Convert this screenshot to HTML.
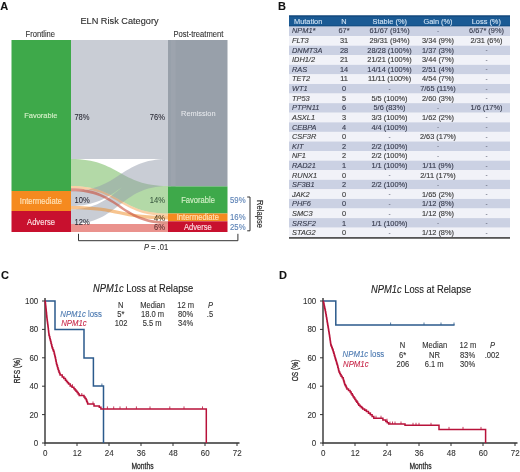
<!DOCTYPE html>
<html><head><meta charset="utf-8"><style>
html,body{margin:0;padding:0;background:#fff;width:520px;height:472px;overflow:hidden}
svg{display:block;filter:blur(0.3px)}
text{font-family:"Liberation Sans", sans-serif}
</style></head><body>
<svg width="520" height="472" viewBox="0 0 520 472">
<rect width="520" height="472" fill="#fff"/>
<text x="0.2" y="9.8" font-size="11" fill="#111" stroke="#111" stroke-width="0.1" text-anchor="start" font-weight="bold" font-style="normal" >A</text>
<text x="0" y="0" transform="translate(119.5,24.4) scale(1,1.08)" font-size="9.2" fill="#2b2b2b" stroke="#2b2b2b" stroke-width="0.1" text-anchor="middle" font-weight="normal" font-style="normal" >ELN Risk Category</text>
<text x="0" y="0" transform="translate(40.3,36.6) scale(1,1.08)" font-size="7.6" fill="#333" stroke="#333" stroke-width="0.1" text-anchor="middle" font-weight="normal" font-style="normal" >Frontline</text>
<text x="0" y="0" transform="translate(198.4,36.6) scale(1,1.08)" font-size="7.6" fill="#333" stroke="#333" stroke-width="0.1" text-anchor="middle" font-weight="normal" font-style="normal" >Post-treatment</text>
<path d="M71,40 C119.5,40 119.5,40 168,40 L168,159 C119.5,159 119.5,159 71,159 Z" fill="#939BAB" fill-opacity="0.5"/>
<path d="M71,159 C119.5,159 119.5,186 168,186 L168,213.5 C119.5,213.5 119.5,186 71,186 Z" fill="#67B34F" fill-opacity="0.5"/>
<path d="M71,191 C119.5,191 119.5,159 168,159 L168,186 C119.5,186 119.5,224 71,224 L71,209.3 C119.5,209.3 119.5,169.5 168,169.5 L168,172 C119.5,172 119.5,206 71,206 Z" fill="#939BAB" fill-opacity="0.5"/>
<path d="M71,186 C119.5,186 119.5,213.5 168,213.5 L168,216 C119.5,216 119.5,188.2 71,188.2 Z" fill="#F08A20" fill-opacity="0.4"/>
<path d="M71,206 C119.5,206 119.5,216 168,216 L168,219.5 C119.5,219.5 119.5,209.3 71,209.3 Z" fill="#F08A20" fill-opacity="0.5"/>
<path d="M71,188.2 C119.5,188.2 119.5,221.3 168,221.3 L168,224 C119.5,224 119.5,191.2 71,191.2 Z" fill="#C8503E" fill-opacity="0.62"/>
<path d="M71,224 C119.5,224 119.5,224 168,224 L168,232 C119.5,232 119.5,232 71,232 Z" fill="#D5251C" fill-opacity="0.5"/>
<rect x="11.5" y="40" width="59.5" height="151" fill="#3EA94A"/>
<rect x="11.5" y="191" width="59.5" height="20" fill="#F58A1F"/>
<rect x="11.5" y="211" width="59.5" height="21" fill="#C8102E"/>
<rect x="168" y="40" width="59.5" height="146.4" fill="#98A0AA"/>
<rect x="170.8" y="40" width="4.8" height="146.4" fill="#9DA4AE"/>
<rect x="168" y="186.4" width="59.5" height="27.1" fill="#3EA94A"/>
<rect x="168" y="213.5" width="59.5" height="7.8" fill="#F58A1F"/>
<rect x="168" y="221.3" width="59.5" height="10.7" fill="#C8102E"/>
<text x="0" y="0" transform="translate(40.8,118) scale(1,1.08)" font-size="7.5" fill="#D5F0C8" stroke="#D5F0C8" stroke-width="0.12" text-anchor="middle" font-weight="normal" font-style="normal" >Favorable</text>
<text x="0" y="0" transform="translate(40.9,203.6) scale(1,1.08)" font-size="7.6" fill="#FFE2B8" stroke="#FFE2B8" stroke-width="0.15" text-anchor="middle" font-weight="normal" font-style="normal" >Intermediate</text>
<text x="0" y="0" transform="translate(41,224.6) scale(1,1.08)" font-size="7.6" fill="#FBDDE0" stroke="#FBDDE0" stroke-width="0.15" text-anchor="middle" font-weight="normal" font-style="normal" >Adverse</text>
<text x="0" y="0" transform="translate(74.4,120.4) scale(1,1.08)" font-size="7.6" fill="#2a2a35" stroke="#2a2a35" stroke-width="0.06" text-anchor="start" font-weight="normal" font-style="normal" >78%</text>
<text x="0" y="0" transform="translate(74.6,203.2) scale(1,1.08)" font-size="7.6" fill="#2a2a35" stroke="#2a2a35" stroke-width="0.06" text-anchor="start" font-weight="normal" font-style="normal" >10%</text>
<text x="0" y="0" transform="translate(74.6,224.8) scale(1,1.08)" font-size="7.6" fill="#2a2a35" stroke="#2a2a35" stroke-width="0.06" text-anchor="start" font-weight="normal" font-style="normal" >12%</text>
<text x="0" y="0" transform="translate(165,120.4) scale(1,1.08)" font-size="7.6" fill="#2a2a35" stroke="#2a2a35" stroke-width="0.06" text-anchor="end" font-weight="normal" font-style="normal" >76%</text>
<text x="0" y="0" transform="translate(165,203.2) scale(1,1.08)" font-size="7.6" fill="#3a5a40" stroke="#3a5a40" stroke-width="0.06" text-anchor="end" font-weight="normal" font-style="normal" >14%</text>
<text x="0" y="0" transform="translate(165,220.5) scale(1,1.08)" font-size="7.6" fill="#4a3a20" stroke="#4a3a20" stroke-width="0.06" text-anchor="end" font-weight="normal" font-style="normal" >4%</text>
<text x="0" y="0" transform="translate(165,229.6) scale(1,1.08)" font-size="7.6" fill="#5a3030" stroke="#5a3030" stroke-width="0.06" text-anchor="end" font-weight="normal" font-style="normal" >6%</text>
<text x="0" y="0" transform="translate(198.3,115.9) scale(1,1.08)" font-size="7.4" fill="#E6E8EC" stroke="#E6E8EC" stroke-width="0.05" text-anchor="middle" font-weight="normal" font-style="normal" >Remission</text>
<text x="0" y="0" transform="translate(198,202.8) scale(1,1.08)" font-size="7.6" fill="#D5F0C8" stroke="#D5F0C8" stroke-width="0.12" text-anchor="middle" font-weight="normal" font-style="normal" >Favorable</text>
<text x="0" y="0" transform="translate(197.8,219.7) scale(1,1.08)" font-size="7.6" fill="#FFE2B8" stroke="#FFE2B8" stroke-width="0.15" text-anchor="middle" font-weight="normal" font-style="normal" >Intermediate</text>
<text x="0" y="0" transform="translate(197.9,229.7) scale(1,1.08)" font-size="7.6" fill="#FBDDE0" stroke="#FBDDE0" stroke-width="0.15" text-anchor="middle" font-weight="normal" font-style="normal" >Adverse</text>
<text x="0" y="0" transform="translate(230,203) scale(1,1.08)" font-size="7.8" fill="#5A80B5" stroke="#5A80B5" stroke-width="0.1" text-anchor="start" font-weight="normal" font-style="normal" >59%</text>
<text x="0" y="0" transform="translate(230,220.2) scale(1,1.08)" font-size="7.8" fill="#5A80B5" stroke="#5A80B5" stroke-width="0.1" text-anchor="start" font-weight="normal" font-style="normal" >16%</text>
<text x="0" y="0" transform="translate(230,230) scale(1,1.08)" font-size="7.8" fill="#5A80B5" stroke="#5A80B5" stroke-width="0.1" text-anchor="start" font-weight="normal" font-style="normal" >25%</text>
<path d="M247.2,197 H250 V230.8 H247.2" fill="none" stroke="#333" stroke-width="1"/>
<text x="0" y="0" font-size="7.6" fill="#2a2a2a" stroke="#2a2a2a" stroke-width="0.15" transform="translate(257,214) rotate(90) scale(1,1.08)" text-anchor="middle">Relapse</text>
<path d="M78.5,233.8 V240.7 H237.9 V233.8" fill="none" stroke="#333" stroke-width="1"/>
<text x="0" y="0" transform="translate(156,250) scale(1,1.08)" font-size="7.6" fill="#333" stroke="#333" stroke-width="0.1" text-anchor="middle" font-weight="normal" font-style="normal" ><tspan font-style="italic">P</tspan> = .01</text>
<text x="278" y="9.8" font-size="11" fill="#111" stroke="#111" stroke-width="0.1" text-anchor="start" font-weight="bold" font-style="normal" >B</text>
<rect x="289" y="15.5" width="221" height="11" fill="#1A5A94"/>
<rect x="289" y="15.5" width="221" height="1" fill="#0E3F70"/>
<rect x="289" y="25.6" width="221" height="0.9" fill="#0E3F70"/>
<text x="0" y="0" transform="translate(294,24) scale(1,1.08)" font-size="7.4" fill="#D2E4F5" stroke="#D2E4F5" stroke-width="0.1" text-anchor="start" font-weight="normal" font-style="normal" >Mutation</text>
<text x="0" y="0" transform="translate(344,24) scale(1,1.08)" font-size="7.4" fill="#D2E4F5" stroke="#D2E4F5" stroke-width="0.1" text-anchor="middle" font-weight="normal" font-style="normal" >N</text>
<text x="0" y="0" transform="translate(389.7,24) scale(1,1.08)" font-size="7.4" fill="#D2E4F5" stroke="#D2E4F5" stroke-width="0.1" text-anchor="middle" font-weight="normal" font-style="normal" >Stable (%)</text>
<text x="0" y="0" transform="translate(438,24) scale(1,1.08)" font-size="7.4" fill="#D2E4F5" stroke="#D2E4F5" stroke-width="0.1" text-anchor="middle" font-weight="normal" font-style="normal" >Gain (%)</text>
<text x="0" y="0" transform="translate(486.3,24) scale(1,1.08)" font-size="7.4" fill="#D2E4F5" stroke="#D2E4F5" stroke-width="0.1" text-anchor="middle" font-weight="normal" font-style="normal" >Loss (%)</text>
<rect x="289" y="26.50" width="221" height="9.63" fill="#CBD1E3"/>
<rect x="289" y="36.08" width="221" height="9.63" fill="#F1F2F8"/>
<rect x="289" y="45.66" width="221" height="9.63" fill="#CBD1E3"/>
<rect x="289" y="55.24" width="221" height="9.63" fill="#F1F2F8"/>
<rect x="289" y="64.82" width="221" height="9.63" fill="#CBD1E3"/>
<rect x="289" y="74.40" width="221" height="9.63" fill="#F1F2F8"/>
<rect x="289" y="83.98" width="221" height="9.63" fill="#CBD1E3"/>
<rect x="289" y="93.56" width="221" height="9.63" fill="#F1F2F8"/>
<rect x="289" y="103.14" width="221" height="9.63" fill="#CBD1E3"/>
<rect x="289" y="112.72" width="221" height="9.63" fill="#F1F2F8"/>
<rect x="289" y="122.30" width="221" height="9.63" fill="#CBD1E3"/>
<rect x="289" y="131.88" width="221" height="9.63" fill="#F1F2F8"/>
<rect x="289" y="141.46" width="221" height="9.63" fill="#CBD1E3"/>
<rect x="289" y="151.04" width="221" height="9.63" fill="#F1F2F8"/>
<rect x="289" y="160.62" width="221" height="9.63" fill="#CBD1E3"/>
<rect x="289" y="170.20" width="221" height="9.63" fill="#F1F2F8"/>
<rect x="289" y="179.78" width="221" height="9.63" fill="#CBD1E3"/>
<rect x="289" y="189.36" width="221" height="9.63" fill="#F1F2F8"/>
<rect x="289" y="198.94" width="221" height="9.63" fill="#CBD1E3"/>
<rect x="289" y="208.52" width="221" height="9.63" fill="#F1F2F8"/>
<rect x="289" y="218.10" width="221" height="9.63" fill="#CBD1E3"/>
<rect x="289" y="227.68" width="221" height="9.63" fill="#F1F2F8"/>
<text x="0" y="0" transform="translate(292,33.45) scale(1,1.08)" font-size="7.4" fill="#383C4E" stroke="#383C4E" stroke-width="0.12" text-anchor="start" font-weight="normal" font-style="italic" >NPM1*</text>
<text x="0" y="0" transform="translate(344,33.45) scale(1,1.08)" font-size="7.4" fill="#383C4E" stroke="#383C4E" stroke-width="0.12" text-anchor="middle" font-weight="normal" font-style="normal" >67*</text>
<text x="0" y="0" transform="translate(389.5,33.45) scale(1,1.08)" font-size="7.4" fill="#383C4E" stroke="#383C4E" stroke-width="0.12" text-anchor="middle" font-weight="normal" font-style="normal" >61/67 (91%)</text>
<text x="0" y="0" transform="translate(438,33.05) scale(1,1.08)" font-size="6.4" fill="#5a5e70" stroke="#5a5e70" stroke-width="0" text-anchor="middle" font-weight="normal" font-style="normal" >-</text>
<text x="0" y="0" transform="translate(486.5,33.45) scale(1,1.08)" font-size="7.4" fill="#383C4E" stroke="#383C4E" stroke-width="0.12" text-anchor="middle" font-weight="normal" font-style="normal" >6/67* (9%)</text>
<text x="0" y="0" transform="translate(292,43.05) scale(1,1.08)" font-size="7.4" fill="#3a3a3a" stroke="#3a3a3a" stroke-width="0.12" text-anchor="start" font-weight="normal" font-style="italic" >FLT3</text>
<text x="0" y="0" transform="translate(344,43.05) scale(1,1.08)" font-size="7.4" fill="#3a3a3a" stroke="#3a3a3a" stroke-width="0.12" text-anchor="middle" font-weight="normal" font-style="normal" >31</text>
<text x="0" y="0" transform="translate(389.5,43.05) scale(1,1.08)" font-size="7.4" fill="#3a3a3a" stroke="#3a3a3a" stroke-width="0.12" text-anchor="middle" font-weight="normal" font-style="normal" >29/31 (94%)</text>
<text x="0" y="0" transform="translate(438,43.05) scale(1,1.08)" font-size="7.4" fill="#3a3a3a" stroke="#3a3a3a" stroke-width="0.12" text-anchor="middle" font-weight="normal" font-style="normal" >3/34 (9%)</text>
<text x="0" y="0" transform="translate(486.5,43.05) scale(1,1.08)" font-size="7.4" fill="#3a3a3a" stroke="#3a3a3a" stroke-width="0.12" text-anchor="middle" font-weight="normal" font-style="normal" >2/31 (6%)</text>
<text x="0" y="0" transform="translate(292,52.66) scale(1,1.08)" font-size="7.4" fill="#383C4E" stroke="#383C4E" stroke-width="0.12" text-anchor="start" font-weight="normal" font-style="italic" >DNMT3A</text>
<text x="0" y="0" transform="translate(344,52.66) scale(1,1.08)" font-size="7.4" fill="#383C4E" stroke="#383C4E" stroke-width="0.12" text-anchor="middle" font-weight="normal" font-style="normal" >28</text>
<text x="0" y="0" transform="translate(389.5,52.66) scale(1,1.08)" font-size="7.4" fill="#383C4E" stroke="#383C4E" stroke-width="0.12" text-anchor="middle" font-weight="normal" font-style="normal" >28/28 (100%)</text>
<text x="0" y="0" transform="translate(438,52.66) scale(1,1.08)" font-size="7.4" fill="#383C4E" stroke="#383C4E" stroke-width="0.12" text-anchor="middle" font-weight="normal" font-style="normal" >1/37 (3%)</text>
<text x="0" y="0" transform="translate(486.5,52.26) scale(1,1.08)" font-size="6.4" fill="#5a5e70" stroke="#5a5e70" stroke-width="0" text-anchor="middle" font-weight="normal" font-style="normal" >-</text>
<text x="0" y="0" transform="translate(292,62.27) scale(1,1.08)" font-size="7.4" fill="#3a3a3a" stroke="#3a3a3a" stroke-width="0.12" text-anchor="start" font-weight="normal" font-style="italic" >IDH1/2</text>
<text x="0" y="0" transform="translate(344,62.27) scale(1,1.08)" font-size="7.4" fill="#3a3a3a" stroke="#3a3a3a" stroke-width="0.12" text-anchor="middle" font-weight="normal" font-style="normal" >21</text>
<text x="0" y="0" transform="translate(389.5,62.27) scale(1,1.08)" font-size="7.4" fill="#3a3a3a" stroke="#3a3a3a" stroke-width="0.12" text-anchor="middle" font-weight="normal" font-style="normal" >21/21 (100%)</text>
<text x="0" y="0" transform="translate(438,62.27) scale(1,1.08)" font-size="7.4" fill="#3a3a3a" stroke="#3a3a3a" stroke-width="0.12" text-anchor="middle" font-weight="normal" font-style="normal" >3/44 (7%)</text>
<text x="0" y="0" transform="translate(486.5,61.87) scale(1,1.08)" font-size="6.4" fill="#5a5e70" stroke="#5a5e70" stroke-width="0" text-anchor="middle" font-weight="normal" font-style="normal" >-</text>
<text x="0" y="0" transform="translate(292,71.87) scale(1,1.08)" font-size="7.4" fill="#383C4E" stroke="#383C4E" stroke-width="0.12" text-anchor="start" font-weight="normal" font-style="italic" >RAS</text>
<text x="0" y="0" transform="translate(344,71.87) scale(1,1.08)" font-size="7.4" fill="#383C4E" stroke="#383C4E" stroke-width="0.12" text-anchor="middle" font-weight="normal" font-style="normal" >14</text>
<text x="0" y="0" transform="translate(389.5,71.87) scale(1,1.08)" font-size="7.4" fill="#383C4E" stroke="#383C4E" stroke-width="0.12" text-anchor="middle" font-weight="normal" font-style="normal" >14/14 (100%)</text>
<text x="0" y="0" transform="translate(438,71.87) scale(1,1.08)" font-size="7.4" fill="#383C4E" stroke="#383C4E" stroke-width="0.12" text-anchor="middle" font-weight="normal" font-style="normal" >2/51 (4%)</text>
<text x="0" y="0" transform="translate(486.5,71.47) scale(1,1.08)" font-size="6.4" fill="#5a5e70" stroke="#5a5e70" stroke-width="0" text-anchor="middle" font-weight="normal" font-style="normal" >-</text>
<text x="0" y="0" transform="translate(292,81.48) scale(1,1.08)" font-size="7.4" fill="#3a3a3a" stroke="#3a3a3a" stroke-width="0.12" text-anchor="start" font-weight="normal" font-style="italic" >TET2</text>
<text x="0" y="0" transform="translate(344,81.48) scale(1,1.08)" font-size="7.4" fill="#3a3a3a" stroke="#3a3a3a" stroke-width="0.12" text-anchor="middle" font-weight="normal" font-style="normal" >11</text>
<text x="0" y="0" transform="translate(389.5,81.48) scale(1,1.08)" font-size="7.4" fill="#3a3a3a" stroke="#3a3a3a" stroke-width="0.12" text-anchor="middle" font-weight="normal" font-style="normal" >11/11 (100%)</text>
<text x="0" y="0" transform="translate(438,81.48) scale(1,1.08)" font-size="7.4" fill="#3a3a3a" stroke="#3a3a3a" stroke-width="0.12" text-anchor="middle" font-weight="normal" font-style="normal" >4/54 (7%)</text>
<text x="0" y="0" transform="translate(486.5,81.08) scale(1,1.08)" font-size="6.4" fill="#5a5e70" stroke="#5a5e70" stroke-width="0" text-anchor="middle" font-weight="normal" font-style="normal" >-</text>
<text x="0" y="0" transform="translate(292,91.08) scale(1,1.08)" font-size="7.4" fill="#383C4E" stroke="#383C4E" stroke-width="0.12" text-anchor="start" font-weight="normal" font-style="italic" >WT1</text>
<text x="0" y="0" transform="translate(344,91.08) scale(1,1.08)" font-size="7.4" fill="#383C4E" stroke="#383C4E" stroke-width="0.12" text-anchor="middle" font-weight="normal" font-style="normal" >0</text>
<text x="0" y="0" transform="translate(389.5,90.68) scale(1,1.08)" font-size="6.4" fill="#5a5e70" stroke="#5a5e70" stroke-width="0" text-anchor="middle" font-weight="normal" font-style="normal" >-</text>
<text x="0" y="0" transform="translate(438,91.08) scale(1,1.08)" font-size="7.4" fill="#383C4E" stroke="#383C4E" stroke-width="0.12" text-anchor="middle" font-weight="normal" font-style="normal" >7/65 (11%)</text>
<text x="0" y="0" transform="translate(486.5,90.68) scale(1,1.08)" font-size="6.4" fill="#5a5e70" stroke="#5a5e70" stroke-width="0" text-anchor="middle" font-weight="normal" font-style="normal" >-</text>
<text x="0" y="0" transform="translate(292,100.69) scale(1,1.08)" font-size="7.4" fill="#3a3a3a" stroke="#3a3a3a" stroke-width="0.12" text-anchor="start" font-weight="normal" font-style="italic" >TP53</text>
<text x="0" y="0" transform="translate(344,100.69) scale(1,1.08)" font-size="7.4" fill="#3a3a3a" stroke="#3a3a3a" stroke-width="0.12" text-anchor="middle" font-weight="normal" font-style="normal" >5</text>
<text x="0" y="0" transform="translate(389.5,100.69) scale(1,1.08)" font-size="7.4" fill="#3a3a3a" stroke="#3a3a3a" stroke-width="0.12" text-anchor="middle" font-weight="normal" font-style="normal" >5/5 (100%)</text>
<text x="0" y="0" transform="translate(438,100.69) scale(1,1.08)" font-size="7.4" fill="#3a3a3a" stroke="#3a3a3a" stroke-width="0.12" text-anchor="middle" font-weight="normal" font-style="normal" >2/60 (3%)</text>
<text x="0" y="0" transform="translate(486.5,100.28) scale(1,1.08)" font-size="6.4" fill="#5a5e70" stroke="#5a5e70" stroke-width="0" text-anchor="middle" font-weight="normal" font-style="normal" >-</text>
<text x="0" y="0" transform="translate(292,110.29) scale(1,1.08)" font-size="7.4" fill="#383C4E" stroke="#383C4E" stroke-width="0.12" text-anchor="start" font-weight="normal" font-style="italic" >PTPN11</text>
<text x="0" y="0" transform="translate(344,110.29) scale(1,1.08)" font-size="7.4" fill="#383C4E" stroke="#383C4E" stroke-width="0.12" text-anchor="middle" font-weight="normal" font-style="normal" >6</text>
<text x="0" y="0" transform="translate(389.5,110.29) scale(1,1.08)" font-size="7.4" fill="#383C4E" stroke="#383C4E" stroke-width="0.12" text-anchor="middle" font-weight="normal" font-style="normal" >5/6 (83%)</text>
<text x="0" y="0" transform="translate(438,109.89) scale(1,1.08)" font-size="6.4" fill="#5a5e70" stroke="#5a5e70" stroke-width="0" text-anchor="middle" font-weight="normal" font-style="normal" >-</text>
<text x="0" y="0" transform="translate(486.5,110.29) scale(1,1.08)" font-size="7.4" fill="#383C4E" stroke="#383C4E" stroke-width="0.12" text-anchor="middle" font-weight="normal" font-style="normal" >1/6 (17%)</text>
<text x="0" y="0" transform="translate(292,119.89) scale(1,1.08)" font-size="7.4" fill="#3a3a3a" stroke="#3a3a3a" stroke-width="0.12" text-anchor="start" font-weight="normal" font-style="italic" >ASXL1</text>
<text x="0" y="0" transform="translate(344,119.89) scale(1,1.08)" font-size="7.4" fill="#3a3a3a" stroke="#3a3a3a" stroke-width="0.12" text-anchor="middle" font-weight="normal" font-style="normal" >3</text>
<text x="0" y="0" transform="translate(389.5,119.89) scale(1,1.08)" font-size="7.4" fill="#3a3a3a" stroke="#3a3a3a" stroke-width="0.12" text-anchor="middle" font-weight="normal" font-style="normal" >3/3 (100%)</text>
<text x="0" y="0" transform="translate(438,119.89) scale(1,1.08)" font-size="7.4" fill="#3a3a3a" stroke="#3a3a3a" stroke-width="0.12" text-anchor="middle" font-weight="normal" font-style="normal" >1/62 (2%)</text>
<text x="0" y="0" transform="translate(486.5,119.49) scale(1,1.08)" font-size="6.4" fill="#5a5e70" stroke="#5a5e70" stroke-width="0" text-anchor="middle" font-weight="normal" font-style="normal" >-</text>
<text x="0" y="0" transform="translate(292,129.50) scale(1,1.08)" font-size="7.4" fill="#383C4E" stroke="#383C4E" stroke-width="0.12" text-anchor="start" font-weight="normal" font-style="italic" >CEBPA</text>
<text x="0" y="0" transform="translate(344,129.50) scale(1,1.08)" font-size="7.4" fill="#383C4E" stroke="#383C4E" stroke-width="0.12" text-anchor="middle" font-weight="normal" font-style="normal" >4</text>
<text x="0" y="0" transform="translate(389.5,129.50) scale(1,1.08)" font-size="7.4" fill="#383C4E" stroke="#383C4E" stroke-width="0.12" text-anchor="middle" font-weight="normal" font-style="normal" >4/4 (100%)</text>
<text x="0" y="0" transform="translate(438,129.10) scale(1,1.08)" font-size="6.4" fill="#5a5e70" stroke="#5a5e70" stroke-width="0" text-anchor="middle" font-weight="normal" font-style="normal" >-</text>
<text x="0" y="0" transform="translate(486.5,129.10) scale(1,1.08)" font-size="6.4" fill="#5a5e70" stroke="#5a5e70" stroke-width="0" text-anchor="middle" font-weight="normal" font-style="normal" >-</text>
<text x="0" y="0" transform="translate(292,139.10) scale(1,1.08)" font-size="7.4" fill="#3a3a3a" stroke="#3a3a3a" stroke-width="0.12" text-anchor="start" font-weight="normal" font-style="italic" >CSF3R</text>
<text x="0" y="0" transform="translate(344,139.10) scale(1,1.08)" font-size="7.4" fill="#3a3a3a" stroke="#3a3a3a" stroke-width="0.12" text-anchor="middle" font-weight="normal" font-style="normal" >0</text>
<text x="0" y="0" transform="translate(389.5,138.70) scale(1,1.08)" font-size="6.4" fill="#5a5e70" stroke="#5a5e70" stroke-width="0" text-anchor="middle" font-weight="normal" font-style="normal" >-</text>
<text x="0" y="0" transform="translate(438,139.10) scale(1,1.08)" font-size="7.4" fill="#3a3a3a" stroke="#3a3a3a" stroke-width="0.12" text-anchor="middle" font-weight="normal" font-style="normal" >2/63 (17%)</text>
<text x="0" y="0" transform="translate(486.5,138.70) scale(1,1.08)" font-size="6.4" fill="#5a5e70" stroke="#5a5e70" stroke-width="0" text-anchor="middle" font-weight="normal" font-style="normal" >-</text>
<text x="0" y="0" transform="translate(292,148.71) scale(1,1.08)" font-size="7.4" fill="#383C4E" stroke="#383C4E" stroke-width="0.12" text-anchor="start" font-weight="normal" font-style="italic" >KIT</text>
<text x="0" y="0" transform="translate(344,148.71) scale(1,1.08)" font-size="7.4" fill="#383C4E" stroke="#383C4E" stroke-width="0.12" text-anchor="middle" font-weight="normal" font-style="normal" >2</text>
<text x="0" y="0" transform="translate(389.5,148.71) scale(1,1.08)" font-size="7.4" fill="#383C4E" stroke="#383C4E" stroke-width="0.12" text-anchor="middle" font-weight="normal" font-style="normal" >2/2 (100%)</text>
<text x="0" y="0" transform="translate(438,148.31) scale(1,1.08)" font-size="6.4" fill="#5a5e70" stroke="#5a5e70" stroke-width="0" text-anchor="middle" font-weight="normal" font-style="normal" >-</text>
<text x="0" y="0" transform="translate(486.5,148.31) scale(1,1.08)" font-size="6.4" fill="#5a5e70" stroke="#5a5e70" stroke-width="0" text-anchor="middle" font-weight="normal" font-style="normal" >-</text>
<text x="0" y="0" transform="translate(292,158.31) scale(1,1.08)" font-size="7.4" fill="#3a3a3a" stroke="#3a3a3a" stroke-width="0.12" text-anchor="start" font-weight="normal" font-style="italic" >NF1</text>
<text x="0" y="0" transform="translate(344,158.31) scale(1,1.08)" font-size="7.4" fill="#3a3a3a" stroke="#3a3a3a" stroke-width="0.12" text-anchor="middle" font-weight="normal" font-style="normal" >2</text>
<text x="0" y="0" transform="translate(389.5,158.31) scale(1,1.08)" font-size="7.4" fill="#3a3a3a" stroke="#3a3a3a" stroke-width="0.12" text-anchor="middle" font-weight="normal" font-style="normal" >2/2 (100%)</text>
<text x="0" y="0" transform="translate(438,157.91) scale(1,1.08)" font-size="6.4" fill="#5a5e70" stroke="#5a5e70" stroke-width="0" text-anchor="middle" font-weight="normal" font-style="normal" >-</text>
<text x="0" y="0" transform="translate(486.5,157.91) scale(1,1.08)" font-size="6.4" fill="#5a5e70" stroke="#5a5e70" stroke-width="0" text-anchor="middle" font-weight="normal" font-style="normal" >-</text>
<text x="0" y="0" transform="translate(292,167.92) scale(1,1.08)" font-size="7.4" fill="#383C4E" stroke="#383C4E" stroke-width="0.12" text-anchor="start" font-weight="normal" font-style="italic" >RAD21</text>
<text x="0" y="0" transform="translate(344,167.92) scale(1,1.08)" font-size="7.4" fill="#383C4E" stroke="#383C4E" stroke-width="0.12" text-anchor="middle" font-weight="normal" font-style="normal" >1</text>
<text x="0" y="0" transform="translate(389.5,167.92) scale(1,1.08)" font-size="7.4" fill="#383C4E" stroke="#383C4E" stroke-width="0.12" text-anchor="middle" font-weight="normal" font-style="normal" >1/1 (100%)</text>
<text x="0" y="0" transform="translate(438,167.92) scale(1,1.08)" font-size="7.4" fill="#383C4E" stroke="#383C4E" stroke-width="0.12" text-anchor="middle" font-weight="normal" font-style="normal" >1/11 (9%)</text>
<text x="0" y="0" transform="translate(486.5,167.52) scale(1,1.08)" font-size="6.4" fill="#5a5e70" stroke="#5a5e70" stroke-width="0" text-anchor="middle" font-weight="normal" font-style="normal" >-</text>
<text x="0" y="0" transform="translate(292,177.52) scale(1,1.08)" font-size="7.4" fill="#3a3a3a" stroke="#3a3a3a" stroke-width="0.12" text-anchor="start" font-weight="normal" font-style="italic" >RUNX1</text>
<text x="0" y="0" transform="translate(344,177.52) scale(1,1.08)" font-size="7.4" fill="#3a3a3a" stroke="#3a3a3a" stroke-width="0.12" text-anchor="middle" font-weight="normal" font-style="normal" >0</text>
<text x="0" y="0" transform="translate(389.5,177.12) scale(1,1.08)" font-size="6.4" fill="#5a5e70" stroke="#5a5e70" stroke-width="0" text-anchor="middle" font-weight="normal" font-style="normal" >-</text>
<text x="0" y="0" transform="translate(438,177.52) scale(1,1.08)" font-size="7.4" fill="#3a3a3a" stroke="#3a3a3a" stroke-width="0.12" text-anchor="middle" font-weight="normal" font-style="normal" >2/11 (17%)</text>
<text x="0" y="0" transform="translate(486.5,177.12) scale(1,1.08)" font-size="6.4" fill="#5a5e70" stroke="#5a5e70" stroke-width="0" text-anchor="middle" font-weight="normal" font-style="normal" >-</text>
<text x="0" y="0" transform="translate(292,187.13) scale(1,1.08)" font-size="7.4" fill="#383C4E" stroke="#383C4E" stroke-width="0.12" text-anchor="start" font-weight="normal" font-style="italic" >SF3B1</text>
<text x="0" y="0" transform="translate(344,187.13) scale(1,1.08)" font-size="7.4" fill="#383C4E" stroke="#383C4E" stroke-width="0.12" text-anchor="middle" font-weight="normal" font-style="normal" >2</text>
<text x="0" y="0" transform="translate(389.5,187.13) scale(1,1.08)" font-size="7.4" fill="#383C4E" stroke="#383C4E" stroke-width="0.12" text-anchor="middle" font-weight="normal" font-style="normal" >2/2 (100%)</text>
<text x="0" y="0" transform="translate(438,186.73) scale(1,1.08)" font-size="6.4" fill="#5a5e70" stroke="#5a5e70" stroke-width="0" text-anchor="middle" font-weight="normal" font-style="normal" >-</text>
<text x="0" y="0" transform="translate(486.5,186.73) scale(1,1.08)" font-size="6.4" fill="#5a5e70" stroke="#5a5e70" stroke-width="0" text-anchor="middle" font-weight="normal" font-style="normal" >-</text>
<text x="0" y="0" transform="translate(292,196.74) scale(1,1.08)" font-size="7.4" fill="#3a3a3a" stroke="#3a3a3a" stroke-width="0.12" text-anchor="start" font-weight="normal" font-style="italic" >JAK2</text>
<text x="0" y="0" transform="translate(344,196.74) scale(1,1.08)" font-size="7.4" fill="#3a3a3a" stroke="#3a3a3a" stroke-width="0.12" text-anchor="middle" font-weight="normal" font-style="normal" >0</text>
<text x="0" y="0" transform="translate(389.5,196.34) scale(1,1.08)" font-size="6.4" fill="#5a5e70" stroke="#5a5e70" stroke-width="0" text-anchor="middle" font-weight="normal" font-style="normal" >-</text>
<text x="0" y="0" transform="translate(438,196.74) scale(1,1.08)" font-size="7.4" fill="#3a3a3a" stroke="#3a3a3a" stroke-width="0.12" text-anchor="middle" font-weight="normal" font-style="normal" >1/65 (2%)</text>
<text x="0" y="0" transform="translate(486.5,196.34) scale(1,1.08)" font-size="6.4" fill="#5a5e70" stroke="#5a5e70" stroke-width="0" text-anchor="middle" font-weight="normal" font-style="normal" >-</text>
<text x="0" y="0" transform="translate(292,206.34) scale(1,1.08)" font-size="7.4" fill="#383C4E" stroke="#383C4E" stroke-width="0.12" text-anchor="start" font-weight="normal" font-style="italic" >PHF6</text>
<text x="0" y="0" transform="translate(344,206.34) scale(1,1.08)" font-size="7.4" fill="#383C4E" stroke="#383C4E" stroke-width="0.12" text-anchor="middle" font-weight="normal" font-style="normal" >0</text>
<text x="0" y="0" transform="translate(389.5,205.94) scale(1,1.08)" font-size="6.4" fill="#5a5e70" stroke="#5a5e70" stroke-width="0" text-anchor="middle" font-weight="normal" font-style="normal" >-</text>
<text x="0" y="0" transform="translate(438,206.34) scale(1,1.08)" font-size="7.4" fill="#383C4E" stroke="#383C4E" stroke-width="0.12" text-anchor="middle" font-weight="normal" font-style="normal" >1/12 (8%)</text>
<text x="0" y="0" transform="translate(486.5,205.94) scale(1,1.08)" font-size="6.4" fill="#5a5e70" stroke="#5a5e70" stroke-width="0" text-anchor="middle" font-weight="normal" font-style="normal" >-</text>
<text x="0" y="0" transform="translate(292,215.94) scale(1,1.08)" font-size="7.4" fill="#3a3a3a" stroke="#3a3a3a" stroke-width="0.12" text-anchor="start" font-weight="normal" font-style="italic" >SMC3</text>
<text x="0" y="0" transform="translate(344,215.94) scale(1,1.08)" font-size="7.4" fill="#3a3a3a" stroke="#3a3a3a" stroke-width="0.12" text-anchor="middle" font-weight="normal" font-style="normal" >0</text>
<text x="0" y="0" transform="translate(389.5,215.54) scale(1,1.08)" font-size="6.4" fill="#5a5e70" stroke="#5a5e70" stroke-width="0" text-anchor="middle" font-weight="normal" font-style="normal" >-</text>
<text x="0" y="0" transform="translate(438,215.94) scale(1,1.08)" font-size="7.4" fill="#3a3a3a" stroke="#3a3a3a" stroke-width="0.12" text-anchor="middle" font-weight="normal" font-style="normal" >1/12 (8%)</text>
<text x="0" y="0" transform="translate(486.5,215.54) scale(1,1.08)" font-size="6.4" fill="#5a5e70" stroke="#5a5e70" stroke-width="0" text-anchor="middle" font-weight="normal" font-style="normal" >-</text>
<text x="0" y="0" transform="translate(292,225.55) scale(1,1.08)" font-size="7.4" fill="#383C4E" stroke="#383C4E" stroke-width="0.12" text-anchor="start" font-weight="normal" font-style="italic" >SRSF2</text>
<text x="0" y="0" transform="translate(344,225.55) scale(1,1.08)" font-size="7.4" fill="#383C4E" stroke="#383C4E" stroke-width="0.12" text-anchor="middle" font-weight="normal" font-style="normal" >1</text>
<text x="0" y="0" transform="translate(389.5,225.55) scale(1,1.08)" font-size="7.4" fill="#383C4E" stroke="#383C4E" stroke-width="0.12" text-anchor="middle" font-weight="normal" font-style="normal" >1/1 (100%)</text>
<text x="0" y="0" transform="translate(438,225.15) scale(1,1.08)" font-size="6.4" fill="#5a5e70" stroke="#5a5e70" stroke-width="0" text-anchor="middle" font-weight="normal" font-style="normal" >-</text>
<text x="0" y="0" transform="translate(486.5,225.15) scale(1,1.08)" font-size="6.4" fill="#5a5e70" stroke="#5a5e70" stroke-width="0" text-anchor="middle" font-weight="normal" font-style="normal" >-</text>
<text x="0" y="0" transform="translate(292,235.16) scale(1,1.08)" font-size="7.4" fill="#3a3a3a" stroke="#3a3a3a" stroke-width="0.12" text-anchor="start" font-weight="normal" font-style="italic" >STAG2</text>
<text x="0" y="0" transform="translate(344,235.16) scale(1,1.08)" font-size="7.4" fill="#3a3a3a" stroke="#3a3a3a" stroke-width="0.12" text-anchor="middle" font-weight="normal" font-style="normal" >0</text>
<text x="0" y="0" transform="translate(389.5,234.75) scale(1,1.08)" font-size="6.4" fill="#5a5e70" stroke="#5a5e70" stroke-width="0" text-anchor="middle" font-weight="normal" font-style="normal" >-</text>
<text x="0" y="0" transform="translate(438,235.16) scale(1,1.08)" font-size="7.4" fill="#3a3a3a" stroke="#3a3a3a" stroke-width="0.12" text-anchor="middle" font-weight="normal" font-style="normal" >1/12 (8%)</text>
<text x="0" y="0" transform="translate(486.5,234.75) scale(1,1.08)" font-size="6.4" fill="#5a5e70" stroke="#5a5e70" stroke-width="0" text-anchor="middle" font-weight="normal" font-style="normal" >-</text>
<rect x="289" y="237" width="221" height="1.8" fill="#555"/>
<text x="1" y="278.7" font-size="11" fill="#111" stroke="#111" stroke-width="0.1" text-anchor="start" font-weight="bold" font-style="normal" >C</text>
<path d="M45,298 V443 H239.5" fill="none" stroke="#333" stroke-width="1.4"/>
<line x1="42" y1="443.0" x2="45" y2="443.0" stroke="#333" stroke-width="1"/>
<text x="0" y="0" transform="translate(38.3,445.9) scale(1,1.08)" font-size="8" fill="#333" stroke="#333" stroke-width="0.1" text-anchor="end" font-weight="normal" font-style="normal" >0</text>
<line x1="42" y1="414.6" x2="45" y2="414.6" stroke="#333" stroke-width="1"/>
<text x="0" y="0" transform="translate(38.3,417.5) scale(1,1.08)" font-size="8" fill="#333" stroke="#333" stroke-width="0.1" text-anchor="end" font-weight="normal" font-style="normal" >20</text>
<line x1="42" y1="386.2" x2="45" y2="386.2" stroke="#333" stroke-width="1"/>
<text x="0" y="0" transform="translate(38.3,389.09999999999997) scale(1,1.08)" font-size="8" fill="#333" stroke="#333" stroke-width="0.1" text-anchor="end" font-weight="normal" font-style="normal" >40</text>
<line x1="42" y1="357.8" x2="45" y2="357.8" stroke="#333" stroke-width="1"/>
<text x="0" y="0" transform="translate(38.3,360.7) scale(1,1.08)" font-size="8" fill="#333" stroke="#333" stroke-width="0.1" text-anchor="end" font-weight="normal" font-style="normal" >60</text>
<line x1="42" y1="329.4" x2="45" y2="329.4" stroke="#333" stroke-width="1"/>
<text x="0" y="0" transform="translate(38.3,332.29999999999995) scale(1,1.08)" font-size="8" fill="#333" stroke="#333" stroke-width="0.1" text-anchor="end" font-weight="normal" font-style="normal" >80</text>
<line x1="42" y1="301.0" x2="45" y2="301.0" stroke="#333" stroke-width="1"/>
<text x="0" y="0" transform="translate(38.3,303.9) scale(1,1.08)" font-size="8" fill="#333" stroke="#333" stroke-width="0.1" text-anchor="end" font-weight="normal" font-style="normal" >100</text>
<line x1="45" y1="443" x2="45" y2="446" stroke="#333" stroke-width="1"/>
<text x="0" y="0" transform="translate(45.3,455.7) scale(1,1.08)" font-size="8" fill="#333" stroke="#333" stroke-width="0.1" text-anchor="middle" font-weight="normal" font-style="normal" >0</text>
<line x1="77" y1="443" x2="77" y2="446" stroke="#333" stroke-width="1"/>
<text x="0" y="0" transform="translate(77.3,455.7) scale(1,1.08)" font-size="8" fill="#333" stroke="#333" stroke-width="0.1" text-anchor="middle" font-weight="normal" font-style="normal" >12</text>
<line x1="109" y1="443" x2="109" y2="446" stroke="#333" stroke-width="1"/>
<text x="0" y="0" transform="translate(109.3,455.7) scale(1,1.08)" font-size="8" fill="#333" stroke="#333" stroke-width="0.1" text-anchor="middle" font-weight="normal" font-style="normal" >24</text>
<line x1="141" y1="443" x2="141" y2="446" stroke="#333" stroke-width="1"/>
<text x="0" y="0" transform="translate(141.3,455.7) scale(1,1.08)" font-size="8" fill="#333" stroke="#333" stroke-width="0.1" text-anchor="middle" font-weight="normal" font-style="normal" >36</text>
<line x1="173" y1="443" x2="173" y2="446" stroke="#333" stroke-width="1"/>
<text x="0" y="0" transform="translate(173.3,455.7) scale(1,1.08)" font-size="8" fill="#333" stroke="#333" stroke-width="0.1" text-anchor="middle" font-weight="normal" font-style="normal" >48</text>
<line x1="205" y1="443" x2="205" y2="446" stroke="#333" stroke-width="1"/>
<text x="0" y="0" transform="translate(205.3,455.7) scale(1,1.08)" font-size="8" fill="#333" stroke="#333" stroke-width="0.1" text-anchor="middle" font-weight="normal" font-style="normal" >60</text>
<line x1="237" y1="443" x2="237" y2="446" stroke="#333" stroke-width="1"/>
<text x="0" y="0" transform="translate(237.3,455.7) scale(1,1.08)" font-size="8" fill="#333" stroke="#333" stroke-width="0.1" text-anchor="middle" font-weight="normal" font-style="normal" >72</text>
<text x="0" y="0" font-size="9.6" fill="#2a2a2a" stroke="#2a2a2a" stroke-width="0.3" text-anchor="middle" transform="translate(142.5,469.1) scale(0.7,1)">Months</text>
<text x="0" y="0" font-size="9.6" fill="#2a2a2a" stroke="#2a2a2a" stroke-width="0.3" text-anchor="middle" transform="translate(20.2,370.5) rotate(-90) scale(0.69,1)">RFS (%)</text>
<path d="M45.0,301.0 L55.0,301.0 L55.0,329.4 L84.0,329.4 L84.0,358.0 L93.4,358.0 L93.4,386.0 L103.5,386.0 L103.5,443.0" fill="none" stroke="#2B5A8C" stroke-width="1.5"/>
<path d="M45.10,301.00 H45.27 V302.50 H45.43 V304.00 H45.60 V305.50 H45.77 V307.00 H45.93 V308.50 H46.10 V310.00 H46.24 V311.43 H46.39 V312.86 H46.53 V314.29 H46.67 V315.71 H46.81 V317.14 H46.96 V318.57 H47.10 V320.00 H47.30 V321.52 H47.50 V323.04 H47.70 V324.56 H47.90 V326.08 H48.10 V327.60 H48.28 V329.12 H48.46 V330.64 H48.64 V332.16 H48.82 V333.68 H49.00 V335.20 H49.40 V336.80 H49.80 V338.40 H50.20 V340.00 H50.60 V341.60 H51.00 V343.20 H51.40 V344.80 H51.80 V346.40 H52.20 V348.00 H52.83 V349.67 H53.47 V351.33 H54.10 V353.00 H54.40 V354.27 H54.70 V355.55 H55.00 V356.83 H55.30 V358.10 H55.62 V359.70 H55.95 V361.30 H56.27 V362.90 H56.60 V364.50 H57.08 V366.07 H57.55 V367.65 H58.02 V369.23 H58.50 V370.80 H59.03 V372.17 H59.57 V373.53 H60.10 V374.90 H62.20 V377.00 H63.80 V378.60 H65.40 V380.20 H66.47 V381.43 H67.53 V382.67 H68.60 V383.90 H70.20 V386.00 H72.05 V387.35 H73.90 V388.70 H74.97 V389.93 H76.03 V391.17 H77.10 V392.40 H78.15 V393.95 H79.20 V395.50 L81.80,395.50 H84.00 V397.10 H85.05 V398.45 H86.10 V399.80 H86.63 V401.20 H87.17 V402.60 H87.70 V404.00 L91.90,404.00 H94.00 V406.10 H99.30 V407.20 H100.90 V408.90 L206.30,408.90 L206.30,443.00" fill="none" stroke="#B8123A" stroke-width="1.5" stroke-linejoin="miter"/>
<line x1="72.3" y1="384.0" x2="72.3" y2="386.5" stroke="#B8123A" stroke-width="0.8"/>
<line x1="81.8" y1="393.0" x2="81.8" y2="395.5" stroke="#B8123A" stroke-width="0.8"/>
<line x1="93" y1="401.5" x2="93" y2="404" stroke="#B8123A" stroke-width="0.8"/>
<line x1="107.4" y1="406.4" x2="107.4" y2="408.9" stroke="#B8123A" stroke-width="0.8"/>
<line x1="113.7" y1="406.4" x2="113.7" y2="408.9" stroke="#B8123A" stroke-width="0.8"/>
<line x1="120" y1="406.4" x2="120" y2="408.9" stroke="#B8123A" stroke-width="0.8"/>
<line x1="126.4" y1="406.4" x2="126.4" y2="408.9" stroke="#B8123A" stroke-width="0.8"/>
<line x1="136.4" y1="406.4" x2="136.4" y2="408.9" stroke="#B8123A" stroke-width="0.8"/>
<line x1="150" y1="406.4" x2="150" y2="408.9" stroke="#B8123A" stroke-width="0.8"/>
<line x1="169.8" y1="406.4" x2="169.8" y2="408.9" stroke="#B8123A" stroke-width="0.8"/>
<line x1="184" y1="406.4" x2="184" y2="408.9" stroke="#B8123A" stroke-width="0.8"/>
<line x1="202.5" y1="406.4" x2="202.5" y2="408.9" stroke="#B8123A" stroke-width="0.8"/>
<line x1="101.9" y1="383.5" x2="101.9" y2="386" stroke="#2B5A8C" stroke-width="0.8"/>
<text x="0" y="0" transform="translate(93,292.4) scale(1,1.08)" font-size="9.35" fill="#222" stroke="#222" stroke-width="0.1" text-anchor="start" font-weight="normal" font-style="normal" ><tspan font-style="italic">NPM1c</tspan> Loss at Relapse</text>
<text x="0" y="0" transform="translate(120.8,307.6) scale(1,1.08)" font-size="7.6" fill="#333" stroke="#333" stroke-width="0.1" text-anchor="middle" font-weight="normal" font-style="normal" >N</text>
<text x="0" y="0" transform="translate(152.6,307.6) scale(1,1.08)" font-size="7.6" fill="#333" stroke="#333" stroke-width="0.1" text-anchor="middle" font-weight="normal" font-style="normal" >Median</text>
<text x="0" y="0" transform="translate(185.7,307.6) scale(1,1.08)" font-size="7.6" fill="#333" stroke="#333" stroke-width="0.1" text-anchor="middle" font-weight="normal" font-style="normal" >12 m</text>
<text x="0" y="0" transform="translate(210.5,307.6) scale(1,1.08)" font-size="7.6" fill="#333" stroke="#333" stroke-width="0.1" text-anchor="middle" font-weight="normal" font-style="italic" >P</text>
<text x="0" y="0" transform="translate(60.3,316.7) scale(1,1.08)" font-size="7.8" fill="#4A78B0" stroke="#4A78B0" stroke-width="0.1" text-anchor="start" font-weight="normal" font-style="normal" ><tspan font-style="italic">NPM1c</tspan> loss</text>
<text x="0" y="0" transform="translate(120.8,316.7) scale(1,1.08)" font-size="7.6" fill="#333" stroke="#333" stroke-width="0.1" text-anchor="middle" font-weight="normal" font-style="normal" >5*</text>
<text x="0" y="0" transform="translate(152.6,316.7) scale(1,1.08)" font-size="7.6" fill="#333" stroke="#333" stroke-width="0.1" text-anchor="middle" font-weight="normal" font-style="normal" >18.0 m</text>
<text x="0" y="0" transform="translate(185.7,316.7) scale(1,1.08)" font-size="7.6" fill="#333" stroke="#333" stroke-width="0.1" text-anchor="middle" font-weight="normal" font-style="normal" >80%</text>
<text x="0" y="0" transform="translate(210,316.7) scale(1,1.08)" font-size="7.6" fill="#333" stroke="#333" stroke-width="0.1" text-anchor="middle" font-weight="normal" font-style="normal" >.5</text>
<text x="0" y="0" transform="translate(61.2,326.1) scale(1,1.08)" font-size="7.8" fill="#C8284A" stroke="#C8284A" stroke-width="0.1" text-anchor="start" font-weight="normal" font-style="italic" >NPM1c</text>
<text x="0" y="0" transform="translate(121.1,326.1) scale(1,1.08)" font-size="7.6" fill="#333" stroke="#333" stroke-width="0.1" text-anchor="middle" font-weight="normal" font-style="normal" >102</text>
<text x="0" y="0" transform="translate(152.1,326.1) scale(1,1.08)" font-size="7.6" fill="#333" stroke="#333" stroke-width="0.1" text-anchor="middle" font-weight="normal" font-style="normal" >5.5 m</text>
<text x="0" y="0" transform="translate(185.7,326.1) scale(1,1.08)" font-size="7.6" fill="#333" stroke="#333" stroke-width="0.1" text-anchor="middle" font-weight="normal" font-style="normal" >34%</text>
<text x="279" y="278.7" font-size="11" fill="#111" stroke="#111" stroke-width="0.1" text-anchor="start" font-weight="bold" font-style="normal" >D</text>
<path d="M323,298 V443 H517.5" fill="none" stroke="#333" stroke-width="1.4"/>
<line x1="320" y1="443.0" x2="323" y2="443.0" stroke="#333" stroke-width="1"/>
<text x="0" y="0" transform="translate(316.3,445.9) scale(1,1.08)" font-size="8" fill="#333" stroke="#333" stroke-width="0.1" text-anchor="end" font-weight="normal" font-style="normal" >0</text>
<line x1="320" y1="414.6" x2="323" y2="414.6" stroke="#333" stroke-width="1"/>
<text x="0" y="0" transform="translate(316.3,417.5) scale(1,1.08)" font-size="8" fill="#333" stroke="#333" stroke-width="0.1" text-anchor="end" font-weight="normal" font-style="normal" >20</text>
<line x1="320" y1="386.2" x2="323" y2="386.2" stroke="#333" stroke-width="1"/>
<text x="0" y="0" transform="translate(316.3,389.09999999999997) scale(1,1.08)" font-size="8" fill="#333" stroke="#333" stroke-width="0.1" text-anchor="end" font-weight="normal" font-style="normal" >40</text>
<line x1="320" y1="357.8" x2="323" y2="357.8" stroke="#333" stroke-width="1"/>
<text x="0" y="0" transform="translate(316.3,360.7) scale(1,1.08)" font-size="8" fill="#333" stroke="#333" stroke-width="0.1" text-anchor="end" font-weight="normal" font-style="normal" >60</text>
<line x1="320" y1="329.4" x2="323" y2="329.4" stroke="#333" stroke-width="1"/>
<text x="0" y="0" transform="translate(316.3,332.29999999999995) scale(1,1.08)" font-size="8" fill="#333" stroke="#333" stroke-width="0.1" text-anchor="end" font-weight="normal" font-style="normal" >80</text>
<line x1="320" y1="301.0" x2="323" y2="301.0" stroke="#333" stroke-width="1"/>
<text x="0" y="0" transform="translate(316.3,303.9) scale(1,1.08)" font-size="8" fill="#333" stroke="#333" stroke-width="0.1" text-anchor="end" font-weight="normal" font-style="normal" >100</text>
<line x1="323" y1="443" x2="323" y2="446" stroke="#333" stroke-width="1"/>
<text x="0" y="0" transform="translate(323.3,455.7) scale(1,1.08)" font-size="8" fill="#333" stroke="#333" stroke-width="0.1" text-anchor="middle" font-weight="normal" font-style="normal" >0</text>
<line x1="355" y1="443" x2="355" y2="446" stroke="#333" stroke-width="1"/>
<text x="0" y="0" transform="translate(355.3,455.7) scale(1,1.08)" font-size="8" fill="#333" stroke="#333" stroke-width="0.1" text-anchor="middle" font-weight="normal" font-style="normal" >12</text>
<line x1="387" y1="443" x2="387" y2="446" stroke="#333" stroke-width="1"/>
<text x="0" y="0" transform="translate(387.3,455.7) scale(1,1.08)" font-size="8" fill="#333" stroke="#333" stroke-width="0.1" text-anchor="middle" font-weight="normal" font-style="normal" >24</text>
<line x1="419" y1="443" x2="419" y2="446" stroke="#333" stroke-width="1"/>
<text x="0" y="0" transform="translate(419.3,455.7) scale(1,1.08)" font-size="8" fill="#333" stroke="#333" stroke-width="0.1" text-anchor="middle" font-weight="normal" font-style="normal" >36</text>
<line x1="451" y1="443" x2="451" y2="446" stroke="#333" stroke-width="1"/>
<text x="0" y="0" transform="translate(451.3,455.7) scale(1,1.08)" font-size="8" fill="#333" stroke="#333" stroke-width="0.1" text-anchor="middle" font-weight="normal" font-style="normal" >48</text>
<line x1="483" y1="443" x2="483" y2="446" stroke="#333" stroke-width="1"/>
<text x="0" y="0" transform="translate(483.3,455.7) scale(1,1.08)" font-size="8" fill="#333" stroke="#333" stroke-width="0.1" text-anchor="middle" font-weight="normal" font-style="normal" >60</text>
<line x1="515" y1="443" x2="515" y2="446" stroke="#333" stroke-width="1"/>
<text x="0" y="0" transform="translate(515.3,455.7) scale(1,1.08)" font-size="8" fill="#333" stroke="#333" stroke-width="0.1" text-anchor="middle" font-weight="normal" font-style="normal" >72</text>
<text x="0" y="0" font-size="9.6" fill="#2a2a2a" stroke="#2a2a2a" stroke-width="0.3" text-anchor="middle" transform="translate(420.5,469.1) scale(0.7,1)">Months</text>
<text x="0" y="0" font-size="9.6" fill="#2a2a2a" stroke="#2a2a2a" stroke-width="0.3" text-anchor="middle" transform="translate(298.2,370.5) rotate(-90) scale(0.69,1)">OS (%)</text>
<path d="M323.0,301.0 L335.8,301.0 L335.8,325.0 L454.6,325.0" fill="none" stroke="#2B5A8C" stroke-width="1.5"/>
<path d="M323.20,301.20 H323.50 V302.65 H323.80 V304.10 H324.10 V305.55 H324.40 V307.00 H324.72 V308.55 H325.05 V310.10 H325.38 V311.65 H325.70 V313.20 H325.96 V314.74 H326.22 V316.28 H326.48 V317.82 H326.74 V319.36 H327.00 V320.90 H327.26 V322.42 H327.52 V323.94 H327.78 V325.46 H328.04 V326.98 H328.30 V328.50 H328.54 V330.02 H328.78 V331.54 H329.02 V333.06 H329.26 V334.58 H329.50 V336.10 H329.72 V337.58 H329.93 V339.07 H330.15 V340.55 H330.37 V342.03 H330.58 V343.52 H330.80 V345.00 H331.27 V346.27 H331.75 V347.55 H332.23 V348.83 H332.70 V350.10 H333.20 V351.73 H333.70 V353.37 H334.20 V355.00 H334.60 V356.32 H335.00 V357.65 H335.40 V358.98 H335.80 V360.30 H336.20 V361.62 H336.60 V362.95 H337.00 V364.28 H337.40 V365.60 H337.80 V367.20 H338.20 V368.80 H338.60 V370.40 H339.00 V372.00 H339.70 V373.40 H340.40 V374.80 H341.10 V376.20 H342.15 V377.80 H343.20 V379.40 H343.60 V380.72 H344.00 V382.05 H344.40 V383.38 H344.80 V384.70 H345.50 V386.10 H346.20 V387.50 H346.90 V388.90 H348.50 V390.50 H350.10 V392.10 H351.15 V393.70 H352.20 V395.30 H353.10 V396.70 H354.00 V398.10 H354.90 V399.50 H355.88 V400.93 H356.85 V402.35 H357.82 V403.77 H358.80 V405.20 H360.10 V406.50 H361.40 V407.80 H362.70 V409.10 H364.60 V410.30 H366.50 V411.50 H368.45 V413.15 H370.40 V414.80 H372.10 V416.50 H373.80 V418.20 L381.00,418.20 H382.90 V420.10 H385.80 V421.60 H387.25 V422.80 H388.70 V424.00 L404.00,424.00 H405.00 V425.30 L439.00,425.30 L439.00,429.40 L485.60,429.40 L485.60,443.00" fill="none" stroke="#B8123A" stroke-width="1.5" stroke-linejoin="miter"/>
<line x1="352.5" y1="393.5" x2="352.5" y2="396" stroke="#B8123A" stroke-width="0.8"/>
<line x1="357" y1="400.5" x2="357" y2="403" stroke="#B8123A" stroke-width="0.8"/>
<line x1="362.5" y1="406.5" x2="362.5" y2="409" stroke="#B8123A" stroke-width="0.8"/>
<line x1="366" y1="409.0" x2="366" y2="411.5" stroke="#B8123A" stroke-width="0.8"/>
<line x1="370" y1="412.3" x2="370" y2="414.8" stroke="#B8123A" stroke-width="0.8"/>
<line x1="376" y1="415.7" x2="376" y2="418.2" stroke="#B8123A" stroke-width="0.8"/>
<line x1="381" y1="415.7" x2="381" y2="418.2" stroke="#B8123A" stroke-width="0.8"/>
<line x1="387" y1="418.7" x2="387" y2="421.2" stroke="#B8123A" stroke-width="0.8"/>
<line x1="390" y1="421.5" x2="390" y2="424" stroke="#B8123A" stroke-width="0.8"/>
<line x1="392.5" y1="421.5" x2="392.5" y2="424" stroke="#B8123A" stroke-width="0.8"/>
<line x1="395" y1="421.5" x2="395" y2="424" stroke="#B8123A" stroke-width="0.8"/>
<line x1="401" y1="421.5" x2="401" y2="424" stroke="#B8123A" stroke-width="0.8"/>
<line x1="413" y1="422.8" x2="413" y2="425.3" stroke="#B8123A" stroke-width="0.8"/>
<line x1="416" y1="422.8" x2="416" y2="425.3" stroke="#B8123A" stroke-width="0.8"/>
<line x1="419" y1="422.8" x2="419" y2="425.3" stroke="#B8123A" stroke-width="0.8"/>
<line x1="431" y1="422.8" x2="431" y2="425.3" stroke="#B8123A" stroke-width="0.8"/>
<line x1="449" y1="426.9" x2="449" y2="429.4" stroke="#B8123A" stroke-width="0.8"/>
<line x1="463" y1="426.9" x2="463" y2="429.4" stroke="#B8123A" stroke-width="0.8"/>
<line x1="481" y1="426.9" x2="481" y2="429.4" stroke="#B8123A" stroke-width="0.8"/>
<line x1="390.6" y1="322.5" x2="390.6" y2="325" stroke="#2B5A8C" stroke-width="0.8"/>
<line x1="424" y1="322.5" x2="424" y2="325" stroke="#2B5A8C" stroke-width="0.8"/>
<line x1="441" y1="322.5" x2="441" y2="325" stroke="#2B5A8C" stroke-width="0.8"/>
<line x1="454" y1="322.5" x2="454" y2="325" stroke="#2B5A8C" stroke-width="0.8"/>
<text x="0" y="0" transform="translate(371,292.8) scale(1,1.08)" font-size="9.35" fill="#222" stroke="#222" stroke-width="0.1" text-anchor="start" font-weight="normal" font-style="normal" ><tspan font-style="italic">NPM1c</tspan> Loss at Relapse</text>
<text x="0" y="0" transform="translate(402.5,348.2) scale(1,1.08)" font-size="7.6" fill="#333" stroke="#333" stroke-width="0.1" text-anchor="middle" font-weight="normal" font-style="normal" >N</text>
<text x="0" y="0" transform="translate(434.7,348.0) scale(1,1.08)" font-size="7.6" fill="#333" stroke="#333" stroke-width="0.1" text-anchor="middle" font-weight="normal" font-style="normal" >Median</text>
<text x="0" y="0" transform="translate(468,348.0) scale(1,1.08)" font-size="7.6" fill="#333" stroke="#333" stroke-width="0.1" text-anchor="middle" font-weight="normal" font-style="normal" >12 m</text>
<text x="0" y="0" transform="translate(492.5,348.2) scale(1,1.08)" font-size="7.6" fill="#333" stroke="#333" stroke-width="0.1" text-anchor="middle" font-weight="normal" font-style="italic" >P</text>
<text x="0" y="0" transform="translate(342.6,357.0) scale(1,1.08)" font-size="7.8" fill="#4A78B0" stroke="#4A78B0" stroke-width="0.1" text-anchor="start" font-weight="normal" font-style="normal" ><tspan font-style="italic">NPM1c</tspan> loss</text>
<text x="0" y="0" transform="translate(402.6,357.5) scale(1,1.08)" font-size="7.6" fill="#333" stroke="#333" stroke-width="0.1" text-anchor="middle" font-weight="normal" font-style="normal" >6*</text>
<text x="0" y="0" transform="translate(434.4,357.5) scale(1,1.08)" font-size="7.6" fill="#333" stroke="#333" stroke-width="0.1" text-anchor="middle" font-weight="normal" font-style="normal" >NR</text>
<text x="0" y="0" transform="translate(467.7,357.5) scale(1,1.08)" font-size="7.6" fill="#333" stroke="#333" stroke-width="0.1" text-anchor="middle" font-weight="normal" font-style="normal" >83%</text>
<text x="0" y="0" transform="translate(492,357.5) scale(1,1.08)" font-size="7.6" fill="#333" stroke="#333" stroke-width="0.1" text-anchor="middle" font-weight="normal" font-style="normal" >.002</text>
<text x="0" y="0" transform="translate(343,366.6) scale(1,1.08)" font-size="7.8" fill="#C8284A" stroke="#C8284A" stroke-width="0.1" text-anchor="start" font-weight="normal" font-style="italic" >NPM1c</text>
<text x="0" y="0" transform="translate(402.8,366.6) scale(1,1.08)" font-size="7.6" fill="#333" stroke="#333" stroke-width="0.1" text-anchor="middle" font-weight="normal" font-style="normal" >206</text>
<text x="0" y="0" transform="translate(434.2,366.6) scale(1,1.08)" font-size="7.6" fill="#333" stroke="#333" stroke-width="0.1" text-anchor="middle" font-weight="normal" font-style="normal" >6.1 m</text>
<text x="0" y="0" transform="translate(467.7,366.6) scale(1,1.08)" font-size="7.6" fill="#333" stroke="#333" stroke-width="0.1" text-anchor="middle" font-weight="normal" font-style="normal" >30%</text>
</svg>
</body></html>
